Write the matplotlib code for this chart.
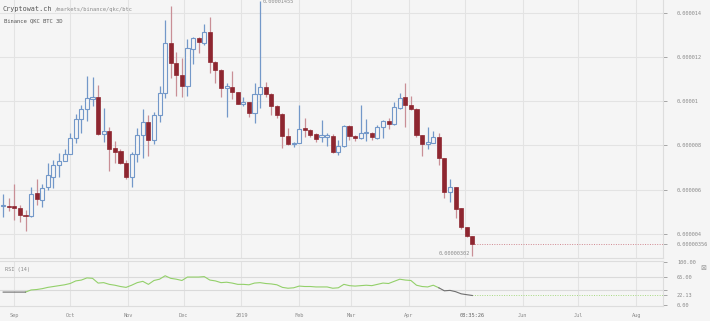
import numpy as np
import pandas as pd
import matplotlib
matplotlib.use('Agg')
import matplotlib.pyplot as plt
import matplotlib.dates as mdates

# 3D candles, prices in units of 1e-6 BTC
start = pd.Timestamp('2018-08-26')
opens = [5.27, 5.28, 5.28, 5.19, 4.87, 4.80, 5.84, 5.54, 6.11, 6.59,
         7.10, 7.30, 7.63, 8.34, 9.21, 9.63, 10.10, 10.18, 8.52, 8.64,
         7.87, 7.75, 7.20, 6.59, 7.60, 8.47, 9.08, 8.25, 9.38, 10.36,
         12.62, 11.74, 11.17, 10.70, 12.34, 12.84, 12.65, 13.13, 11.77, 11.43,
         10.58, 10.63, 10.40, 9.88, 9.95, 9.45, 10.33, 10.63, 10.33, 9.78,
         9.41, 8.43, 8.05, 8.13, 8.78, 8.70, 8.50, 8.40, 8.39, 8.43,
         7.72, 7.99, 8.88, 8.43, 8.32, 8.55, 8.58, 8.35, 8.82, 9.12,
         8.97, 9.68, 10.18, 9.84, 9.65, 8.47, 8.07, 8.13, 8.40, 7.42,
         5.88, 6.11, 5.16, 4.30, 3.91]
highs = [5.79, 5.64, 6.26, 5.31, 5.09, 6.14, 6.49, 6.25, 7.19, 7.35,
         7.65, 7.83, 8.55, 9.41, 9.83, 11.14, 11.08, 10.73, 9.68, 8.85,
         8.20, 7.83, 7.34, 7.72, 8.81, 9.63, 9.38, 9.53, 10.69, 13.67,
         14.32, 12.21, 11.94, 12.81, 12.89, 12.89, 13.49, 13.79, 11.82, 11.46,
         10.81, 11.38, 10.42, 10.21, 9.98, 10.81, 14.55, 10.88, 10.36, 9.83,
         9.45, 8.81, 8.17, 9.83, 9.22, 8.73, 8.55, 9.15, 8.58, 8.50,
         8.25, 8.93, 8.93, 8.47, 9.83, 9.18, 8.62, 8.93, 9.15, 9.26,
         9.95, 10.39, 10.81, 10.24, 9.71, 8.47, 8.85, 8.65, 8.55, 7.42,
         6.47, 6.14, 5.19, 4.33, 3.92]
lows = [4.78, 5.06, 4.63, 4.56, 4.15, 4.79, 5.31, 5.24, 5.99, 6.10,
        6.56, 7.30, 7.62, 8.10, 8.58, 9.12, 9.78, 8.47, 8.14, 6.86,
        7.23, 7.16, 6.50, 6.11, 7.27, 7.42, 7.53, 8.05, 9.08, 10.13,
        11.04, 10.24, 10.21, 10.25, 11.67, 12.19, 12.54, 11.26, 10.81, 10.18,
        9.27, 10.10, 9.86, 9.78, 9.30, 9.00, 9.68, 10.21, 9.38, 9.23,
        7.87, 8.02, 7.95, 8.10, 8.37, 8.40, 8.17, 8.17, 7.99, 7.68,
        7.57, 7.95, 8.25, 8.22, 8.28, 8.22, 8.25, 8.29, 8.35, 8.75,
        8.93, 9.63, 8.85, 9.60, 8.40, 7.53, 7.83, 8.10, 7.12, 5.64,
        5.43, 4.71, 4.21, 3.88, 3.02]
closes = [5.29, 5.24, 5.19, 4.86, 4.80, 5.81, 5.57, 6.08, 6.65, 7.10,
          7.30, 7.60, 8.34, 9.21, 9.63, 10.13, 10.17, 8.50, 8.65, 7.83,
          7.72, 7.20, 6.56, 7.60, 8.47, 9.05, 8.25, 9.38, 10.36, 12.62,
          11.71, 11.17, 10.70, 12.39, 12.84, 12.66, 13.13, 11.76, 11.41, 10.58,
          10.69, 10.40, 9.88, 9.96, 9.45, 10.31, 10.63, 10.33, 9.80, 9.36,
          8.43, 8.07, 8.12, 8.75, 8.70, 8.47, 8.29, 8.47, 8.47, 7.72,
          7.99, 8.90, 8.43, 8.32, 8.55, 8.60, 8.40, 8.82, 9.11, 8.97,
          9.72, 10.13, 9.83, 9.63, 8.47, 8.07, 8.17, 8.40, 7.42, 5.91,
          6.14, 5.13, 4.30, 3.91, 3.56]
rsi = [30, 30, 30, 30, 30, 35, 36, 38, 41, 43,
       45, 47, 50, 56, 58, 63, 62, 51, 52, 48,
       46, 43, 41, 46, 52, 55, 48, 57, 60, 68,
       62, 60, 57, 65, 65, 65, 66, 58, 56, 52,
       53, 51, 48, 48, 47, 51, 52, 50, 49, 47,
       41, 39, 40, 44, 43, 43, 42, 42, 42, 39,
       40, 48, 45, 44, 45, 46, 45, 48, 51, 50,
       55, 60, 58, 57, 46, 43, 42, 46, 40, 33,
       34, 31, 26, 24, 22.13]

price_ticks = [4, 6, 8, 10, 12, 14, 3.56]
price_labels = ['0.000004', '0.000006', '0.000008', '0.00001', '0.000012',
                '0.000014', '0.00000356']
rsi_ticks = [100, 65, 35, 22.13, 0]
rsi_labels = ['100.00', '65.00', '', '22.13', '0.00']
month_starts = ['2018-09-01', '2018-10-01', '2018-11-01', '2018-12-01',
                '2019-01-01', '2019-02-01', '2019-03-01', '2019-04-01',
                '2019-05-01', '2019-06-01', '2019-07-01', '2019-08-01']
month_labels = ['Sep', 'Oct', 'Nov', 'Dec', '2019', 'Feb', 'Mar', 'Apr',
                '', 'Jun', 'Jul', 'Aug']
now_label = '08:35:26'

scale = 1e-6
o = np.array(opens) * scale
h = np.array(highs) * scale
l = np.array(lows) * scale
c = np.array(closes) * scale
dates = start + pd.to_timedelta(3 * np.arange(len(opens)), unit='D')
x = mdates.date2num(dates)
up = c >= o

BG = '#f5f5f5'
GRID = '#e3e3e3'
RED = '#8e2630'
RED_W = '#c98f96'
BLUE = '#7398c9'
TXT = '#8a8a8a'
mono = 'DejaVu Sans Mono'

fig = plt.figure(figsize=(7.1, 3.21), dpi=100, facecolor=BG)
W, H = 710, 321
ax = fig.add_axes([0, 1 - 258 / H, 663 / W, 258 / H], facecolor=BG)
rax = fig.add_axes([0, 1 - 306 / H, 663 / W, 45 / H], facecolor=BG, sharex=ax)

x0 = mdates.date2num(pd.Timestamp('2018-09-01'))
ax.set_xlim(x0 - 7.7, x0 + 348.4)
ax.set_ylim((14 - (258 - 12.7) / 22.13) * scale, (14 + 12.7 / 22.13) * scale)
rax.set_ylim(-2.3, 102.3)

mx = mdates.date2num(pd.to_datetime(month_starts))
for a in (ax, rax):
    for m in mx:
        a.axvline(m, color=GRID, lw=0.8, zorder=0)
    for s in a.spines.values():
        s.set_color('#dddddd')
        s.set_linewidth(0.8)
    a.spines['left'].set_visible(False)
    a.tick_params(axis='x', length=0, labelbottom=False)
    a.yaxis.tick_right()
    a.tick_params(axis='y', length=3, width=0.6, color='#999999', pad=7,
                  labelsize=3.8, labelcolor=TXT)
    a.set_xticks([])
ax.spines['top'].set_visible(False)

for t in price_ticks[:-1]:
    ax.axhline(t * scale, color=GRID, lw=0.8, zorder=0)
ax.set_yticks(np.array(price_ticks) * scale)
ax.set_yticklabels(price_labels, family=mono)

# candles
bw = 2.2
ax.vlines(x[~up], l[~up], h[~up], color=RED_W, lw=0.9, zorder=2)
ax.vlines(x[up], l[up], h[up], color=BLUE, lw=0.9, zorder=2)
ax.bar(x[~up], np.maximum(o[~up] - c[~up], 0.03 * scale), bw, bottom=c[~up],
       color=RED, edgecolor=RED, lw=0.5, zorder=3)
ax.bar(x[up], np.maximum(c[up] - o[up], 0.03 * scale), bw, bottom=o[up],
       facecolor=BG, edgecolor=BLUE, lw=0.8, zorder=3)

# last price line
ax.plot([x[-1], ax.get_xlim()[1]], [c[-1], c[-1]], color='#d08890', lw=0.7,
        ls=(0, (1, 1.5)), zorder=1)

imax = int(np.argmax(h))
imin = int(np.argmin(l))
ax.annotate('%.8f' % h[imax], (x[imax], h[imax]), xytext=(2, -1),
            textcoords='offset points', fontsize=3.8, color=TXT, family=mono,
            ha='left', va='center', annotation_clip=False)
ax.annotate('%.8f' % l[imin], (x[imin], l[imin]), xytext=(-2, 1.5),
            textcoords='offset points', fontsize=3.8, color=TXT, family=mono,
            ha='right', va='center', annotation_clip=False)

# RSI: grey where below 35, green elsewhere
r = np.array(rsi, dtype=float)
for lvl in (65, 35):
    rax.axhline(lvl, color='#dadada', lw=0.8, zorder=0)
low = r < 35
grey_pts = low | np.r_[low[1:], False]
green_pts = ~low | np.r_[~low[1:], False]
rax.plot(x, np.where(green_pts, r, np.nan), color='#93d06a', lw=0.8, zorder=3)
rax.plot(x, np.where(grey_pts, r, np.nan), color='#6f6f6f', lw=0.8, zorder=4)
rax.plot([x[-1], rax.get_xlim()[1]], [r[-1], r[-1]], color='#a6d97f',
         lw=0.7, ls=(0, (1, 1.5)), zorder=2)
rax.set_yticks(rsi_ticks)
rax.set_yticklabels(rsi_labels, family=mono)
rax.text(0.007, 0.8, 'RSI (14)', transform=rax.transAxes, fontsize=3.8,
         color=TXT, family=mono, va='center')
fig.text(703 / W, 1 - 268 / H, '\u22a0', fontsize=5, color='#999999',
         ha='center', va='center')

# time axis labels
for m, lab in zip(mx, month_labels):
    if lab:
        rax.text(m, -0.22, lab, transform=rax.get_xaxis_transform(),
                 fontsize=3.8, color=TXT, family=mono, ha='center', va='center')
rax.text(x[-1], -0.22, now_label, transform=rax.get_xaxis_transform(),
         fontsize=3.8, color='#666666', family=mono, ha='center', va='center')

# header
fig.text(3 / W, 1 - 8.5 / H, 'Cryptowat.ch', fontsize=4.9, color='#555555',
         family=mono, va='center')
fig.text(55 / W, 1 - 9 / H, '/markets/binance/qkc/btc', fontsize=3.9,
         color='#8a8a8a', family=mono, va='center')
fig.text(4 / W, 1 - 20.5 / H, 'Binance QKC BTC 3D', fontsize=4,
         color='#555555', family=mono, va='center')

fig.savefig('out.png', dpi=100, facecolor=BG)
